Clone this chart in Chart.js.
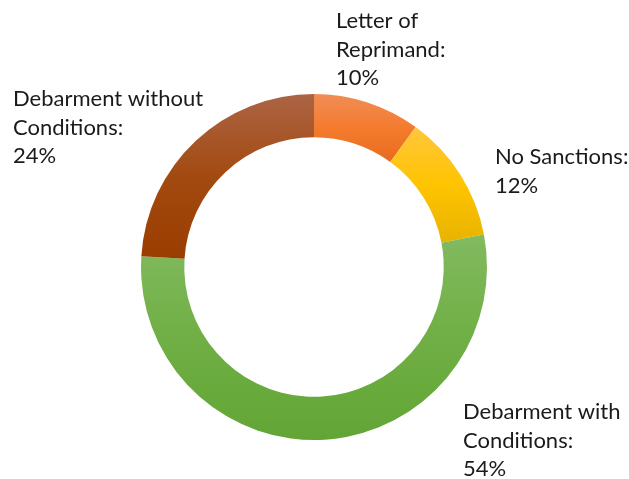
<!DOCTYPE html>
<html>
<head>
<meta charset="utf-8">
<script src="https://cdn.jsdelivr.net/npm/chart.js@4"></script>
<style>
  html, body { margin: 0; padding: 0; background: #fff; }
  #wrap { width: 629px; height: 479px; }
</style>
</head>
<body>
<div id="wrap"><canvas id="sankceChart" width="629" height="479"></canvas></div>
<script>
// data
const categories = ["Letter of Reprimand", "No Sanctions", "Debarment with Conditions", "Debarment without Conditions"];
const shares = [10, 12, 54, 24];
const labelLines = [["Letter of", "Reprimand:"], ["No Sanctions:"], ["Debarment with", "Conditions:"], ["Debarment without", "Conditions:"]];

// gradient stops per slice (top, middle, bottom)
const stops = [
  ["#F08D56", "#F47B2E", "#E96B1D"],
  ["#FFC63E", "#FFC400", "#E8B300"],
  ["#82BA60", "#70AF45", "#62A535"],
  ["#AC6445", "#A34A10", "#9A3D00"]
];
// label anchors: left x, first baseline
const labelPos = [[336, 28], [495, 164], [463, 419], [13, 106]];
const lineH = 28.5;

function sliceGradient(ctx) {
  const chart = ctx.chart;
  const area = chart.chartArea;
  const i = ctx.dataIndex;
  if (!area || i === undefined) return stops[i || 0][1];
  const cx = (area.left + area.right) / 2, cy = (area.top + area.bottom) / 2;
  const rOut = Math.min(area.right - area.left, area.bottom - area.top) / 2;
  const rIn = rOut * 0.75;
  const total = shares.reduce((a, b) => a + b, 0);
  let before = 0;
  for (let k = 0; k < i; k++) before += shares[k];
  const a0 = -Math.PI / 2 + before / total * Math.PI * 2;
  const a1 = a0 + shares[i] / total * Math.PI * 2;
  let yMin = Infinity, yMax = -Infinity;
  for (let s = 0; s <= 60; s++) {
    const a = a0 + (a1 - a0) * s / 60;
    [rOut, rIn].forEach(r => {
      const y = cy + r * Math.sin(a);
      yMin = Math.min(yMin, y); yMax = Math.max(yMax, y);
    });
  }
  const g = chart.ctx.createLinearGradient(0, yMin, 0, yMax);
  g.addColorStop(0, stops[i][0]);
  g.addColorStop(0.5, stops[i][1]);
  g.addColorStop(1, stops[i][2]);
  return g;
}

const labelPlugin = {
  id: "sliceLabels",
  afterDraw(chart) {
    const c = chart.ctx;
    c.save();
    c.fillStyle = "#1a1a1a";
    c.font = "22px Lato";
    c.textAlign = "left";
    c.textBaseline = "alphabetic";
    categories.forEach((cat, i) => {
      const lines = labelLines[i].concat([shares[i] + "%"]);
      lines.forEach((t, j) => c.fillText(t, labelPos[i][0], labelPos[i][1] + j * lineH));
    });
    c.restore();
  }
};

new Chart(document.getElementById("sankceChart").getContext("2d"), {
  type: "doughnut",
  data: {
    labels: categories,
    datasets: [{ data: shares, backgroundColor: sliceGradient, borderWidth: 0, hoverOffset: 0 }]
  },
  options: {
    responsive: false, animation: false, cutout: "75%",
    layout: { padding: { top: 94, bottom: 39, left: 0, right: 1 } },
    plugins: { legend: { display: false }, tooltip: { enabled: false } }
  },
  plugins: [labelPlugin]
});
</script>
</body>
</html>
